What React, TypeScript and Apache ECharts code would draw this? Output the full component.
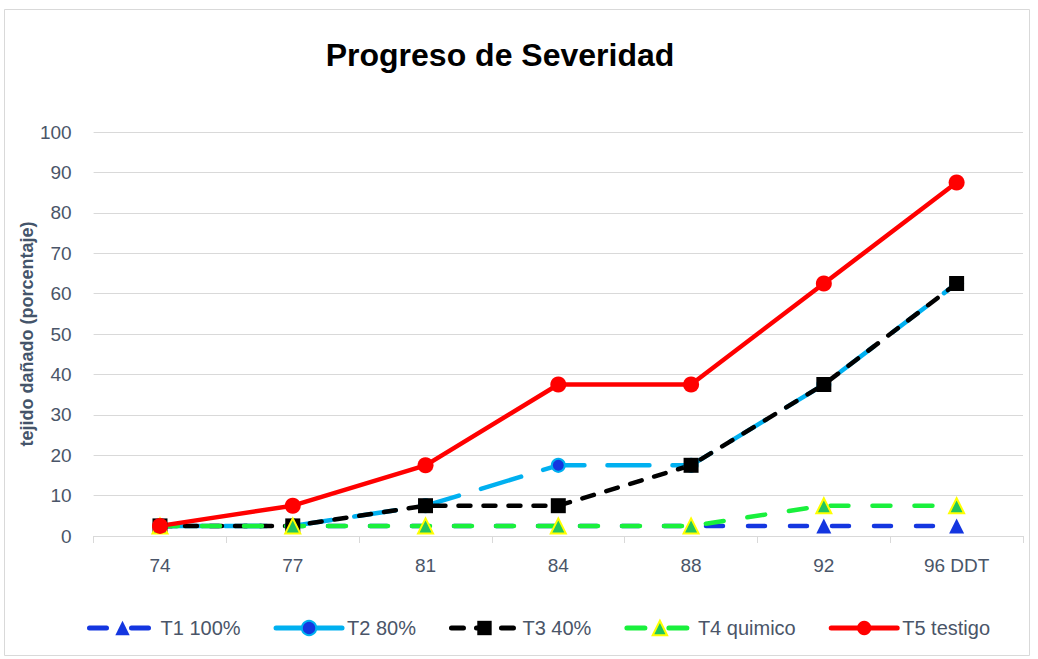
import React, { useEffect, useRef } from "react";
import * as echarts from "echarts";

const categories = ["74", "77", "81", "84", "88", "92", "96 DDT"];
const yTicks = [0, 10, 20, 30, 40, 50, 60, 70, 80, 90, 100];
const t1 = [2.5, 2.5, 2.5, 2.5, 2.5, 2.5, 2.5];
const t2 = [2.5, 2.5, 7.5, 17.5, 17.5, 37.5, 62.5];
const t3 = [2.5, 2.5, 7.5, 7.5, 17.5, 37.5, 62.5];
const t4 = [2.5, 2.5, 2.5, 2.5, 2.5, 7.5, 7.5];
const t5 = [2.5, 7.5, 17.5, 37.5, 37.5, 62.5, 87.5];
const seriesNames = ["T1 100%", "T2 80%", "T3 40%", "T4 quimico", "T5 testigo"];

const FONT = "'Liberation Sans', Arial, sans-serif";
const TXT = "#4a5568";

export default function App() {
  const ref = useRef<HTMLDivElement>(null);
  useEffect(() => {
    if (!ref.current) return;
    const chart = echarts.init(ref.current, null, { renderer: "svg" });
    const lw = 4.5;
    chart.setOption({
      animation: false,
      backgroundColor: "#ffffff",
      textStyle: { fontFamily: FONT },
      title: {
        text: "Progreso de Severidad",
        left: 495,
        top: 34,
        textAlign: "center",
        textStyle: { fontFamily: FONT, fontWeight: "bold", fontSize: 32, color: "#000000" },
      },
      graphic: [
        {
          type: "rect",
          shape: { x: 4.5, y: 9.5, width: 1025, height: 646 },
          style: { fill: "none", stroke: "#d9d9d9", lineWidth: 1 },
          silent: true,
        },
      ],
      grid: { left: 93.6, right: 15, top: 132, bottom: 123 },
      legend: {
        bottom: 16,
        left: 82,
        itemWidth: 66,
        itemHeight: 18,
        itemGap: 33,
        data: seriesNames.map((n, i) =>
          i === 1 ? { name: n, lineStyle: { type: "solid" } } : { name: n }
        ),
        lineStyle: { width: 5, cap: "round" },
        textStyle: { fontFamily: FONT, fontSize: 20, color: TXT },
      },
      xAxis: {
        type: "category",
        data: categories,
        boundaryGap: true,
        axisLine: { lineStyle: { color: "#d9d9d9", width: 1 } },
        axisTick: { show: true, alignWithLabel: false, length: 7, lineStyle: { color: "#d9d9d9" } },
        axisLabel: { fontFamily: FONT, fontSize: 19, color: TXT, margin: 20 },
      },
      yAxis: {
        type: "value",
        min: yTicks[0],
        max: yTicks[yTicks.length - 1],
        interval: 10,
        name: "tejido dañado (porcentaje)",
        nameLocation: "middle",
        nameGap: 58,
        nameMoveOverlap: false,
        nameTextStyle: { fontFamily: FONT, fontSize: 18, fontWeight: "bold", color: "#44546a" },
        axisLine: { show: false },
        axisTick: { show: false },
        splitLine: { lineStyle: { color: "#d9d9d9", width: 1 } },
        axisLabel: { fontFamily: FONT, fontSize: 19, color: TXT, margin: 22 },
      },
      series: [
        {
          name: seriesNames[0],
          type: "line",
          data: t1,
          symbol: "triangle",
          symbolSize: 15,
          itemStyle: { color: "#1436e0" },
          lineStyle: { color: "#1436e0", width: lw, type: [17, 25], cap: "round" },
        },
        {
          name: seriesNames[1],
          type: "line",
          data: t2,
          symbol: "circle",
          symbolSize: 13,
          itemStyle: { color: "#1436e0", borderColor: "#00b0f0", borderWidth: 2 },
          lineStyle: { color: "#00b0f0", width: lw, type: [42, 23], cap: "round" },
        },
        {
          name: seriesNames[2],
          type: "line",
          data: t3,
          symbol: "rect",
          symbolSize: 15,
          itemStyle: { color: "#000000" },
          lineStyle: { color: "#000000", width: lw, type: [12, 13], cap: "round" },
        },
        {
          name: seriesNames[3],
          type: "line",
          data: t4,
          symbol: "triangle",
          symbolSize: 15,
          itemStyle: { color: "#22c55e", borderColor: "#ffff00", borderWidth: 2 },
          lineStyle: { color: "#19f03c", width: lw, type: [18, 24], cap: "round" },
        },
        {
          name: seriesNames[4],
          type: "line",
          data: t5,
          symbol: "circle",
          symbolSize: 16,
          itemStyle: { color: "#ff0000" },
          lineStyle: { color: "#ff0000", width: lw },
        },
      ],
    });
    return () => chart.dispose();
  }, []);
  return (
    <div
      ref={ref}
      style={{ position: "fixed", left: 0, top: 0, width: 1038, height: 659, background: "#fff" }}
    />
  );
}
